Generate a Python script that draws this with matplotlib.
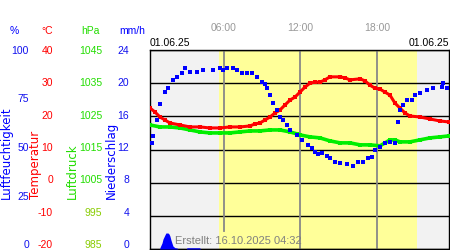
import numpy as np
import pandas as pd
import matplotlib
matplotlib.use("Agg")
import matplotlib.pyplot as plt

temp_h = [0.20, 0.59, 0.98, 1.37, 1.76, 2.55, 3.33, 4.12, 4.90, 5.69, 6.47, 7.25,
          8.04, 8.43, 8.82, 9.22, 9.61, 10.0, 10.39, 10.78, 11.18, 11.57, 11.96,
          12.35, 12.75, 13.14, 13.53, 13.92, 14.31, 15.10, 15.49, 15.88, 16.67,
          17.06, 17.45, 17.84, 18.24, 18.63, 19.02, 19.41, 19.80, 20.20, 20.59,
          21.37, 22.16, 22.94, 23.65]
temp_c = [22.5, 21.3, 19.8, 18.9, 18.0, 17.4, 16.8, 16.8, 16.5, 16.5, 16.8, 16.8,
          17.1, 17.7, 18.0, 18.9, 19.8, 21.0, 21.9, 23.4, 24.9, 25.8, 27.3,
          28.8, 30.0, 30.3, 30.3, 31.0, 31.9, 31.9, 31.6, 31.0, 31.3,
          30.7, 29.4, 28.5, 28.2, 27.3, 26.4, 24.0, 22.5, 21.0, 20.1,
          19.8, 19.2, 18.6, 18.3]

hum_h = [0.35, 0.43, 0.75, 0.98, 1.37, 1.61, 2.0, 2.31, 2.71, 2.94, 3.33, 3.88,
         4.35, 5.14, 5.69, 5.92, 6.24, 6.71, 7.02, 7.41, 7.80, 8.20, 8.59, 8.98,
         9.22, 9.37, 9.61, 9.84, 10.16, 10.39, 10.63, 10.94, 11.18, 11.73, 12.12,
         12.59, 12.90, 13.14, 13.37, 13.69, 14.08, 14.31, 14.71, 15.10, 15.65,
         16.12, 16.51, 16.90, 17.29, 17.61, 17.84, 18.24, 18.63, 19.02, 19.41,
         19.65, 19.80, 20.04, 20.35, 20.75, 20.98, 21.37, 21.92, 22.39, 23.10,
         23.18, 23.49]
hum_pct = [53.3, 56.8, 64.8, 72.9, 78.9, 80.9, 84.9, 86.4, 88.4, 91.0, 88.9, 88.9,
           89.9, 89.9, 91.0, 89.9, 91.0, 91.0, 89.9, 88.4, 88.4, 88.4, 86.4, 83.9,
           82.9, 80.9, 77.4, 73.4, 69.8, 66.3, 64.8, 62.3, 59.8, 57.3, 54.8,
           52.3, 50.8, 48.7, 47.7, 48.2, 46.7, 45.7, 43.7, 43.2, 42.7,
           41.7, 43.7, 43.7, 45.7, 46.2, 49.7, 51.3, 53.3, 53.8, 53.3,
           63.8, 69.8, 72.4, 74.9, 74.9, 77.4, 78.4, 79.9, 80.9, 81.4,
           83.4, 80.9]

pres_h = [0.20, 0.98, 1.76, 2.55, 3.33, 4.12, 4.90, 5.69, 6.47, 7.25, 8.04, 8.82,
          9.61, 10.39, 11.18, 11.73, 11.96, 12.75, 13.53, 14.31, 15.10, 15.88,
          16.67, 17.45, 18.24, 18.63, 19.02, 19.41, 19.80, 20.59, 21.37, 22.16,
          22.94, 23.65]
pres_hpa = [1022.4, 1021.8, 1021.8, 1021.5, 1020.9, 1020.3, 1020.0, 1020.0, 1020.0,
            1020.3, 1020.6, 1020.6, 1020.9, 1020.9, 1020.3, 1019.7, 1019.4, 1018.8,
            1018.5, 1017.6, 1017.0, 1017.0, 1016.4, 1016.4, 1016.1, 1017.0, 1017.9,
            1017.9, 1017.3, 1017.3, 1017.9, 1018.5, 1018.8, 1019.1]

rain_h = [0.95, 1.0, 1.14, 1.22, 1.37, 1.45, 1.61, 1.69, 1.76, 1.84, 1.92, 2.0,
          2.16, 2.31, 2.4, 3.05, 3.1, 4.1, 4.15]
rain_mmh = [0, 0.24, 0.72, 1.2, 1.69, 1.93, 1.93, 1.81, 1.57, 1.1, 0.72, 0.36,
            0.15, 0.12, 0, 0, 0.15, 0.15, 0]

hum_ticks = [0, 25, 50, 75, 100]
temp_ticks = [-20, -10, 0, 10, 20, 30, 40]
pres_ticks = [985, 995, 1005, 1015, 1025, 1035, 1045]
rain_ticks = [0, 4, 8, 12, 16, 20, 24]
time_ticks = [6, 12, 18]
time_labels = ["06:00", "12:00", "18:00"]
sunrise, sunset = 5.6, 21.15

BLUE = "#0000ff"
RED = "#ff0000"
GREEN = "#00ee00"
LBLUE = "#1010ee"
LGREEN = "#22dd00"
SMALL = dict(family="Liberation Sans", size=7.5)
W, H = 450, 250

fig = plt.figure(figsize=(4.5, 2.5), dpi=100)
rect = [150 / W, 1 / H, 299 / W, 199 / H]
ax = fig.add_axes(rect)
ax.set_facecolor("#f2f2f2")
ax.axvspan(sunrise, sunset, color="#ffff99", zorder=0, lw=0)
ax.set_xlim(0.2, 23.65)
ax.set_ylim(-20, 40)
ax.set_yticks(temp_ticks)
ax.tick_params(axis="y", length=0, labelleft=False)
ax.set_axisbelow(True)
ax.grid(axis="y", color="black", lw=1)
for h in time_ticks:
    # die 06:00-Linie endet über dem "Erstellt"-Text
    ax.axvline(h, ymin=0.09 if h == 6 else 0, color="#888888", lw=1.3, zorder=1)
ax.xaxis.tick_top()
ax.set_xticks(time_ticks)
ax.set_xticklabels(time_labels, **SMALL)
ax.tick_params(axis="x", length=0, pad=12, labelcolor="#999999")
for s in ax.spines.values():
    s.set_color("black")
    s.set_linewidth(1)


def data_axis(lim):
    a = ax.twinx()
    a.set_ylim(*lim)
    a.axis("off")
    return a


def label_axis(lim, ticks, color, right_px):
    # Beschriftungen stehen in der Vorlage etwas gestaucht (50..244 px)
    a = fig.add_axes([150 / W, 6 / H, 299 / W, 194 / H])
    a.set_ylim(*lim)
    a.patch.set_visible(False)
    a.xaxis.set_visible(False)
    for s in a.spines.values():
        s.set_visible(False)
    a.set_yticks(ticks)
    a.set_yticklabels([str(t) for t in ticks], **SMALL)
    a.tick_params(axis="y", length=0, pad=(150 - right_px) / 1.389, labelcolor=color)
    return a


ax_rain = data_axis((0, 24))
ax_pres = data_axis((985, 1045))
ax_temp = data_axis((-20, 40))
ax_hum = data_axis((0, 100))

label_axis((0, 24), rain_ticks, LBLUE, 129)
lab_pres = label_axis((985, 1045), pres_ticks, LGREEN, 102)
label_axis((-20, 40), temp_ticks, RED, 53)
label_axis((0, 100), hum_ticks, LBLUE, 29)
for lab in lab_pres.get_yticklabels()[:2]:
    lab.set_color("#88cc00")

ax_rain.fill_between(rain_h, rain_mmh, 0, color=BLUE, lw=0)
ax_pres.plot(pres_h, pres_hpa, color=GREEN, lw=2.6, marker="s", ms=2.6, mew=0)
ax_temp.plot(temp_h, temp_c, color=RED, lw=2.2, marker="s", ms=2.8, mew=0)
ax_hum.plot(hum_h, hum_pct, color=BLUE, lw=0, marker="s", ms=2.8, mew=0)

# Einheiten oben links
for x, txt, c in [(14, "%", BLUE), (47, "°C", RED), (90, "hPa", LGREEN), (132, "mm/h", BLUE)]:
    fig.text(x / W, 1 - 31 / H, txt, color=c, ha="center", va="center", **SMALL)

# gedrehte Achsentitel
for x, txt, c in [(6, "Luftfeuchtigkeit", BLUE), (35, "Temperatur", RED),
                  (72, "Luftdruck", LGREEN), (111, "Niederschlag", BLUE)]:
    fig.text(x / W, 1 - 199 / H, txt, color=c, rotation=90, rotation_mode="anchor",
             ha="left", va="center", family="DejaVu Sans", size=8.5)

fig.text(150 / W, 1 - 43 / H, "01.06.25", color="black", ha="left", va="center", **SMALL)
fig.text(449 / W, 1 - 43 / H, "01.06.25", color="black", ha="right", va="center", **SMALL)
fig.text(175 / W, 1 - 241 / H, "Erstellt: 16.10.2025 04:32", color="#808080",
         ha="left", va="center", family="Liberation Sans", size=8)

fig.savefig("out.png", dpi=100)
